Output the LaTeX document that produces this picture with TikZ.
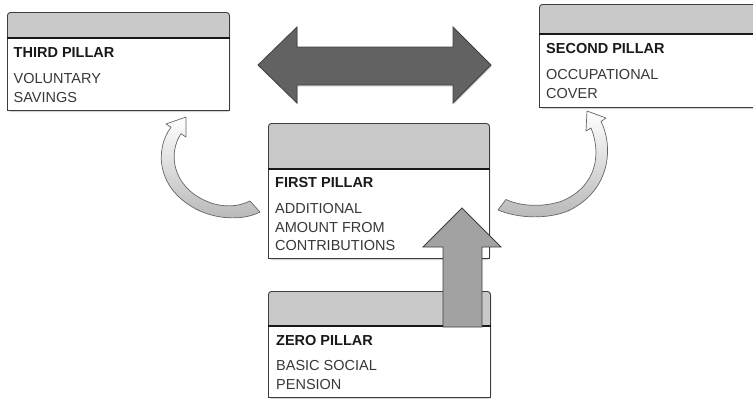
\documentclass[tikz,border=0pt]{standalone}
\usepackage{fontspec}
\setmainfont{Liberation Sans}
\usetikzlibrary{calc,shadows}

\definecolor{headgray}{HTML}{C9C9C9}
\definecolor{boxline}{HTML}{3C3C3C}
\definecolor{swapfill}{HTML}{626262}
\definecolor{upfill}{HTML}{A2A2A2}

\begin{document}
\begin{tikzpicture}[x=1pt,y=-1pt,
  pillarbox/.style={draw=boxline, line width=0.9pt, fill=headgray,
    rounded corners=3pt, inner sep=0pt, anchor=north west,
    drop shadow={shadow xshift=0.8pt, shadow yshift=-1.6pt, opacity=0.35}},
  pillarbody/.style={draw=boxline, line width=0.9pt, fill=white,
    inner sep=0pt, anchor=south west},
  divider/.style={draw=black!90, line width=1.3pt},
  ptitle/.style={anchor=base west, inner sep=0pt,
    font=\fontsize{14.5}{17}\selectfont\bfseries, text=black!90},
  pline/.style={anchor=base west, inner sep=0pt,
    font=\fontsize{14.5}{17}\selectfont, text=black!78},
  swaparrow/.style={draw=black!75, line width=0.8pt, fill=swapfill,
    line join=miter,
    drop shadow={shadow xshift=0.8pt, shadow yshift=-1.6pt, opacity=0.3}},
  uparrow/.style={draw=black!75, line width=0.8pt, fill=upfill},
  curvedarrow/.style={draw=black!60, line width=0.7pt, top color=white,
    bottom color=black!28, line join=round}
]
\useasboundingbox (0,0) rectangle (753,399);

% exchange arrow between the third and second pillars
\draw[swaparrow] (258,65) -- (297,27) -- (297,47) -- (453,47) -- (453,27)
  -- (491,65) -- (453,103) -- (453,85) -- (297,85) -- (297,103) -- cycle;

% third pillar
\node[pillarbox, minimum width=222pt, minimum height=98pt] (third) at (7,12) {};
\node[pillarbody, minimum width=222pt, minimum height=72pt] (thirdBody) at (third.south west) {};
\draw[divider] (thirdBody.north west) -- (thirdBody.north east);
\node[ptitle] (thirdTitle) at ($(thirdBody.north west)+(6.5,19)$) {THIRD PILLAR};
\node[pline] (thirdL1) at ($(thirdBody.north west)+(6.5,45.5)$) {VOLUNTARY};
\node[pline] (thirdL2) at ($(thirdBody.north west)+(6.5,64)$) {SAVINGS};

% second pillar
\node[pillarbox, minimum width=222pt, minimum height=103pt] (second) at (539,4) {};
\node[pillarbody, minimum width=222pt, minimum height=73pt] (secondBody) at (second.south west) {};
\draw[divider] (secondBody.north west) -- (secondBody.north east);
\node[ptitle] (secondTitle) at ($(secondBody.north west)+(7,19)$) {SECOND PILLAR};
\node[pline] (secondL1) at ($(secondBody.north west)+(7,45.5)$) {OCCUPATIONAL};
\node[pline] (secondL2) at ($(secondBody.north west)+(7,64)$) {COVER};

% first pillar
\node[pillarbox, minimum width=221pt, minimum height=135pt] (first) at (268,123) {};
\node[pillarbody, minimum width=221pt, minimum height=89pt] (firstBody) at (first.south west) {};
\draw[divider] (firstBody.north west) -- (firstBody.north east);
\node[ptitle] (firstTitle) at ($(firstBody.north west)+(7,18.5)$) {FIRST PILLAR};
\node[pline] (firstL1) at ($(firstBody.north west)+(7,44.5)$) {ADDITIONAL};
\node[pline] (firstL2) at ($(firstBody.north west)+(7,63)$) {AMOUNT FROM};
\node[pline] (firstL3) at ($(firstBody.north west)+(7,81.5)$) {CONTRIBUTIONS};

% zero pillar
\node[pillarbox, minimum width=222pt, minimum height=106pt] (zero) at (268,291) {};
\node[pillarbody, minimum width=222pt, minimum height=71pt] (zeroBody) at (zero.south west) {};
\draw[divider] (zeroBody.north west) -- (zeroBody.north east);
\node[ptitle] (zeroTitle) at ($(zeroBody.north west)+(8,19)$) {ZERO PILLAR};
\node[pline] (zeroL1) at ($(zeroBody.north west)+(8,44.7)$) {BASIC SOCIAL};
\node[pline] (zeroL2) at ($(zeroBody.north west)+(8,63.3)$) {PENSION};

% curved arrow from the first pillar up to the third pillar
\draw[curvedarrow] (171,127.3) .. controls (155,148) and (155,190) .. (200,211)
  .. controls (220,220) and (245,220) .. (260,212) -- (250,201)
  .. controls (238,207) and (222,208) .. (206,201)
  .. controls (172,186) and (168,153) .. (181,133.7)
  -- (186,137) -- (186,117) -- (166,124) -- cycle;

% curved arrow from the first pillar up to the second pillar
\draw[curvedarrow] (601,121.5) .. controls (613,145) and (612,190) .. (568,211)
  .. controls (548,219) and (520,219) .. (498,210) -- (506,199.5)
  .. controls (522,207) and (545,207) .. (562,201)
  .. controls (598,186) and (601,152) .. (591,128)
  -- (586,131) -- (587,111) -- (606,118) -- cycle;

% arrow rising from the zero pillar into the first pillar
\draw[uparrow] (462,208) -- (501,247) -- (482,247) -- (482,327)
  -- (443,327) -- (443,247) -- (423,247) -- cycle;

\end{tikzpicture}
\end{document}
